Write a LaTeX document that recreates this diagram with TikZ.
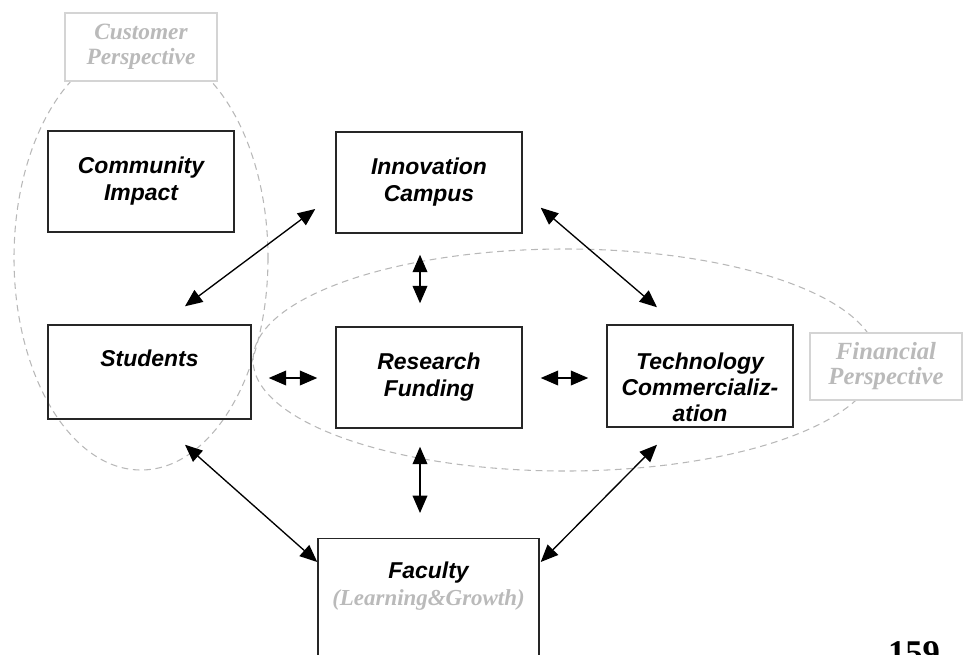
\documentclass[tikz,border=0pt]{standalone}
\usepackage{fontspec}
\setmainfont{Liberation Sans}
\newfontfamily\serifface{Liberation Serif}
\usetikzlibrary{arrows.meta}
\newdimen\px \px=0.75pt

\begin{document}
\begin{tikzpicture}[x=0.75pt,y=-0.75pt,
    box/.style={draw=black!85,line width=1.1pt,minimum width=186\px,minimum height=101\px,align=center,inner sep=0pt,font=\fontsize{17.2}{20.25}\selectfont\bfseries\itshape},
    boxtext/.style={align=center,inner sep=0pt,font=\fontsize{17.2}{19.5}\selectfont\bfseries\itshape},
    persp/.style={draw=black!17,fill=white,line width=0.9pt,minimum width=152\px,minimum height=68\px,align=center,inner sep=0pt,text=black!27,font=\fontsize{17.5}{18.75}\selectfont\serifface\bfseries\itshape},
    region/.style={draw=black!28,line width=0.8pt,dash pattern=on 5pt off 3.5pt},
    link/.style={line width=1pt,{Triangle[length=13pt,width=11pt]}-{Triangle[length=13pt,width=11pt]}}]
    \clip (0,0) rectangle (964,654);
    % perspectives
    \draw[region] (141,258) ellipse [x radius=127,y radius=212];
    \draw[region] (565,360) ellipse [x radius=312,y radius=111];
    \node at (141,47)[persp](cust){Customer\\Perspective};
    \node at (886,366.5)[persp,minimum height=67\px,font=\fontsize{18.5}{18.75}\selectfont\serifface\bfseries\itshape](fin){Financial\\Perspective};
    % boxes
    \node at (141,181.5)[box](comm){Community\\Impact};
    \node at (429,182.5)[box](innov){Innovation\\Campus};
    \node at (149.5,372)[box,minimum width=203\px,minimum height=94\px](stud){Students\\~};
    \node at (429,377.5)[box](res){Research\\Funding};
    \node at (700,376)[box,minimum height=102\px](tech){};
    \node at (700,387)[boxtext](techtext){Technology\\Commercializ-\\ation};
    \node at (428.5,538)[box,anchor=north,minimum width=221\px,minimum height=160\px](fac){};
    \node at (428.5,586.5)[boxtext,font=\fontsize{17.2}{20.25}\selectfont\bfseries\itshape](factext){Faculty\\{\serifface\color{black!27}(Learning\&Growth)}};
    % links
    \draw[link] ([shift={(35.5,-18)}]stud.north)--([shift={(-20,26.5)}]innov.west);
    \draw[link] ([shift={(18,-26)}]innov.south east)--([shift={(-43,-17)}]tech.north);
    \draw[link] ([shift={(-9,21)}]innov.south)--([shift={(-9,-23)}]res.north);
    \draw[link] ([shift={(17,6)}]stud.east)--([shift={(-18,0.5)}]res.west);
    \draw[link] ([shift={(18,0.5)}]res.east)--([shift={(-18,2)}]tech.west);
    \draw[link] ([shift={(35.5,25)}]stud.south)--([shift={(0,24)}]fac.north west);
    \draw[link] ([shift={(-9,18)}]res.south)--([shift={(-8.5,-25)}]fac.north);
    \draw[link] ([shift={(-43,17)}]tech.south)--([shift={(1,24)}]fac.north east);
    % page number
    \node at (914,664)[anchor=base,font=\fontsize{26}{30}\selectfont\serifface\bfseries](page){159};
\end{tikzpicture}
\end{document}
